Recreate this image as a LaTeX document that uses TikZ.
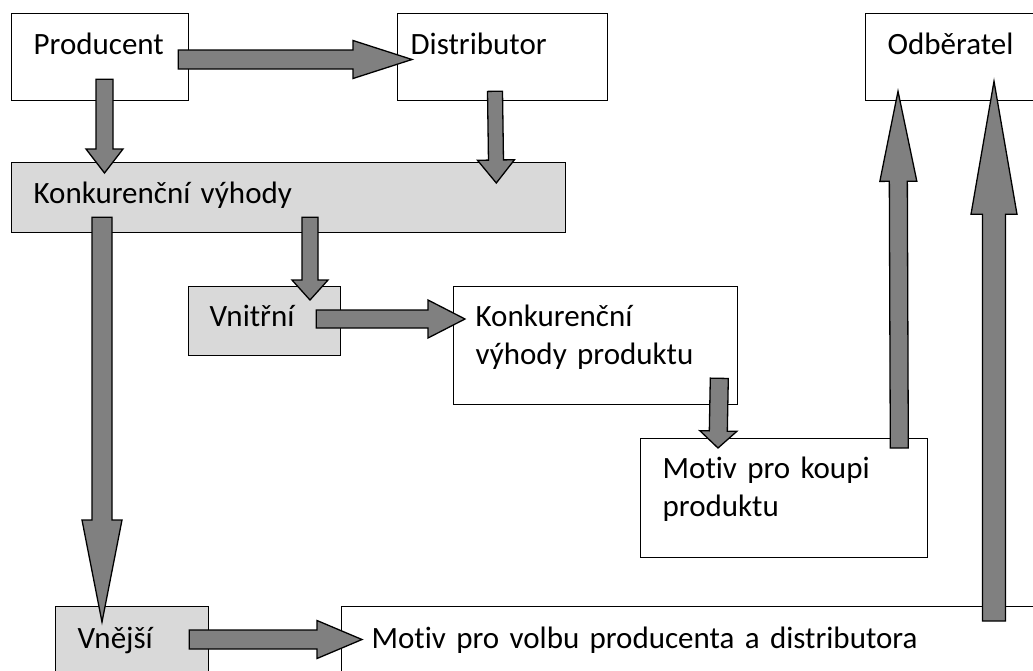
\documentclass[tikz,border=0pt]{standalone}
\definecolor{mBoxGray}{HTML}{D9D9D9}
\definecolor{mArrowGray}{HTML}{808080}
\usepackage{fontspec}
\setmainfont{Carlito}[Ligatures=NoCommon]
\usepackage{tikz}
\usetikzlibrary{calc}

\tikzset{
  box/.style={draw, line width=1.3pt, anchor=north west, inner ysep=0pt, align=left},
  shaded/.style={box, fill=mBoxGray},
  blockarrow/.style n args={3}{draw, line width=1.3pt, fill=mArrowGray, line join=miter,
    to path={($(\tikztotarget)!#3!(\tikztostart)$) coordinate (fatbase)
      ($(\tikztostart)!#1!90:(\tikztotarget)$) -- ($(fatbase)!#1!90:(\tikztotarget)$)
      -- ($(fatbase)!#2!90:(\tikztotarget)$) -- (\tikztotarget)
      -- ($(fatbase)!#2!-90:(\tikztotarget)$) -- ($(fatbase)!#1!-90:(\tikztotarget)$)
      -- ($(\tikztostart)!#1!-90:(\tikztotarget)$) -- cycle}},
}

\begin{document}
\begin{tikzpicture}[x=1pt, y=-1pt, font=\fontsize{31}{38}\selectfont]
\useasboundingbox (0,0) rectangle (1033,670);
\clip (0,0) rectangle (1033,670);
% boxes
\node[box, inner xsep=22pt, text width=133pt, text height=41pt, text depth=46pt] (prod) at (11,13) {Producent};
\node[box, inner xsep=13pt, text width=184pt, text height=41pt, text depth=46pt] (dist) at (397,13) {Distributor};
\node[box, inner xsep=22pt, text width=146pt, text height=41pt, text depth=46pt] (odb) at (865,13) {Odběratel};
\node[shaded, inner xsep=22pt, text width=510pt, text height=41pt, text depth=29pt] (konk) at (11,162) {Konkurenční výhody};
\node[shaded, inner xsep=21pt, text width=110pt, text height=40pt, text depth=29pt] (vnitr) at (188,286) {Vnitřní};
\node[box, inner xsep=22pt, text width=240pt, text height=40pt, text depth=78pt] (kvp) at (453,286) {Konkurenční\\výhody produktu};
\node[box, inner xsep=22pt, text width=243pt, text height=40pt, text depth=79pt] (koupi) at (640,438) {Motiv pro koupi\\produktu};
\node[shaded, inner xsep=22pt, text width=109pt, text height=42pt, text depth=58pt] (vnejsi) at (55,606) {Vnější};
\node[box, inner xsep=30pt, text width=660pt, text height=42pt, text depth=58pt] (volba) at (341,606) {Motiv pro volbu producenta a distributora};
% arrows
\draw[blockarrow={9.5pt}{19pt}{59pt}] ($(prod.north east)+(-11,46.5)$) to ($(dist.north west)+(15,46.5)$);
\draw[blockarrow={8.5pt}{18.5pt}{24pt}] ($(prod.south west)+(93.5,-22)$) to ($(konk.north west)+(93.5,11)$);
\draw[blockarrow={7.5pt}{18.5pt}{23pt}] ($(dist.south west)+(98,-10)$) to ($(konk.north east)+(-70,21)$);
\draw[blockarrow={10pt}{20pt}{102pt}] ($(konk.south west)+(91,-16)$) to ($(vnejsi.north west)+(47,16)$);
\draw[blockarrow={8pt}{18pt}{20pt}] ($(konk.south west)+(299,-16)$) to ($(vnitr.north west)+(122,14)$);
\draw[blockarrow={9pt}{19pt}{37pt}] ($(vnitr.north east)+(-25,33)$) to ($(kvp.north west)+(12,33)$);
\draw[blockarrow={9pt}{18.5pt}{17pt}] ($(kvp.south east)+(-19,-27)$) to ($(koupi.north west)+(78,10)$);
\draw[blockarrow={9pt}{18.5pt}{90pt}] ($(koupi.north east)+(-29,10)$) to ($(odb.south west)+(33,-10)$);
\draw[blockarrow={11.5pt}{23pt}{133pt}] ($(volba.north west)+(653,15)$) to ($(odb.south west)+(129,-20)$);
\draw[blockarrow={9.5pt}{19pt}{45pt}] ($(vnejsi.north east)+(-20,33.5)$) to ($(volba.north west)+(21,33.5)$);
\end{tikzpicture}
\end{document}
